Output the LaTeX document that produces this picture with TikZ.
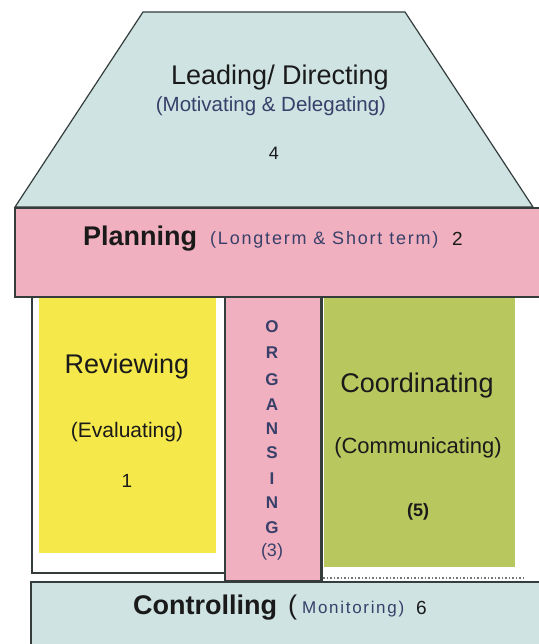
\documentclass[tikz,border=0pt]{standalone}
\usepackage{fontspec}
\setmainfont{Liberation Sans}
\newfontfamily\spacedsans[LetterSpace=10]{Liberation Sans}
\definecolor{roofc}{HTML}{CFE3E3}
\definecolor{pinkc}{HTML}{F1B0BF}
\definecolor{yellowc}{HTML}{F5E84B}
\definecolor{greenc}{HTML}{B8C75E}
\definecolor{edgec}{HTML}{343C3C}
\definecolor{subc}{HTML}{38406A}
\definecolor{titlec}{HTML}{1A1A1A}
\tikzset{
  part/.style={draw=edgec, line width=1.2pt},
  lbl/.style={inner sep=0pt, anchor=base, text=titlec},
  sub/.style={inner sep=0pt, anchor=base, text=subc},
  orgl/.style={inner sep=0pt, anchor=center, text=subc, font=\fontsize{17}{18}\selectfont\bfseries}
}
\begin{document}
\begin{tikzpicture}[x=1pt,y=-1pt]
\useasboundingbox (0,0) rectangle (538,644);
% roof
\filldraw[part, fill=roofc] (143,12) -- (405,12) -- (533,207) -- (15,207) -- cycle;
% planning beam
\filldraw[part, fill=pinkc] (15,208) rectangle (548,297);
% left box
\filldraw[part, fill=white] (32,297) rectangle (226,573);
\fill[yellowc] (39,298) rectangle (216,553);
% organising column
\filldraw[part, fill=pinkc] (225,297) rectangle (321,581);
% right box
\fill[white] (322,298) rectangle (526,580);
\fill[greenc] (324,298) rectangle (515,567);
\draw[edgec, line width=1.2pt] (322,297) -- (322,581);
\draw[edgec!70, line width=1.5pt, dotted] (323,578) -- (523,578);
% controlling base
\filldraw[part, fill=roofc] (31,582) rectangle (548,650);

% roof text
\node[lbl, font=\fontsize{27}{30}\selectfont] (lead) at (280,85) {Leading/ Directing};
\node[sub, font=\fontsize{20.5}{22}\selectfont] (leadsub) at (271,112) {(Motivating \& Delegating)};
\node[lbl, font=\fontsize{18}{20}\selectfont] (four) at (274,160) {4};

% planning text
\node[lbl, anchor=base west, font=\fontsize{27}{30}\selectfont\bfseries] (plan) at (83,245) {Planning};
\node[sub, anchor=base west, font=\fontsize{18}{20}\spacedsans] (plansub) at (210,244) {(Longterm \& Short term)};
\node[lbl, anchor=base west, font=\fontsize{19}{20}\selectfont] (two) at (452,245) {2};

% reviewing
\node[lbl, font=\fontsize{27}{30}\selectfont] (rev) at (127,373) {Reviewing};
\node[lbl, font=\fontsize{21}{24}\selectfont] (revsub) at (127,437) {(Evaluating)};
\node[lbl, font=\fontsize{19}{20}\selectfont] (one) at (127,487) {1};

% organising
\node[orgl] (o1) at (272,327) {O};
\node[orgl] (o2) at (272,353) {R};
\node[orgl] (o3) at (272,380) {G};
\node[orgl] (o4) at (272,405) {A};
\node[orgl] (o5) at (272,429) {N};
\node[orgl] (o6) at (272,453) {S};
\node[orgl] (o7) at (272,479) {I};
\node[orgl] (o8) at (272,503) {N};
\node[orgl] (o9) at (272,528) {G};
\node[orgl, font=\fontsize{18}{19}\selectfont] (o10) at (272,552) {(3)};

% coordinating
\node[lbl, font=\fontsize{27}{30}\selectfont] (coord) at (417,392) {Coordinating};
\node[lbl, font=\fontsize{22}{24}\selectfont] (coordsub) at (418,453) {(Communicating)};
\node[lbl, font=\fontsize{18}{20}\selectfont\bfseries] (five) at (418,516) {(5)};

% controlling
\node[lbl, anchor=base west, font=\fontsize{27}{30}\selectfont\bfseries] (ctrl) at (133,614) {Controlling};
\node[lbl, anchor=base west, font=\fontsize{27}{30}\selectfont] (ctrlp) at (288,614) {(};
\node[sub, anchor=base west, font=\fontsize{17}{18}\spacedsans] (ctrlsub) at (302,613) {Monitoring)};
\node[lbl, anchor=base west, font=\fontsize{19}{20}\selectfont] (six) at (416,614) {6};
\end{tikzpicture}
\end{document}
